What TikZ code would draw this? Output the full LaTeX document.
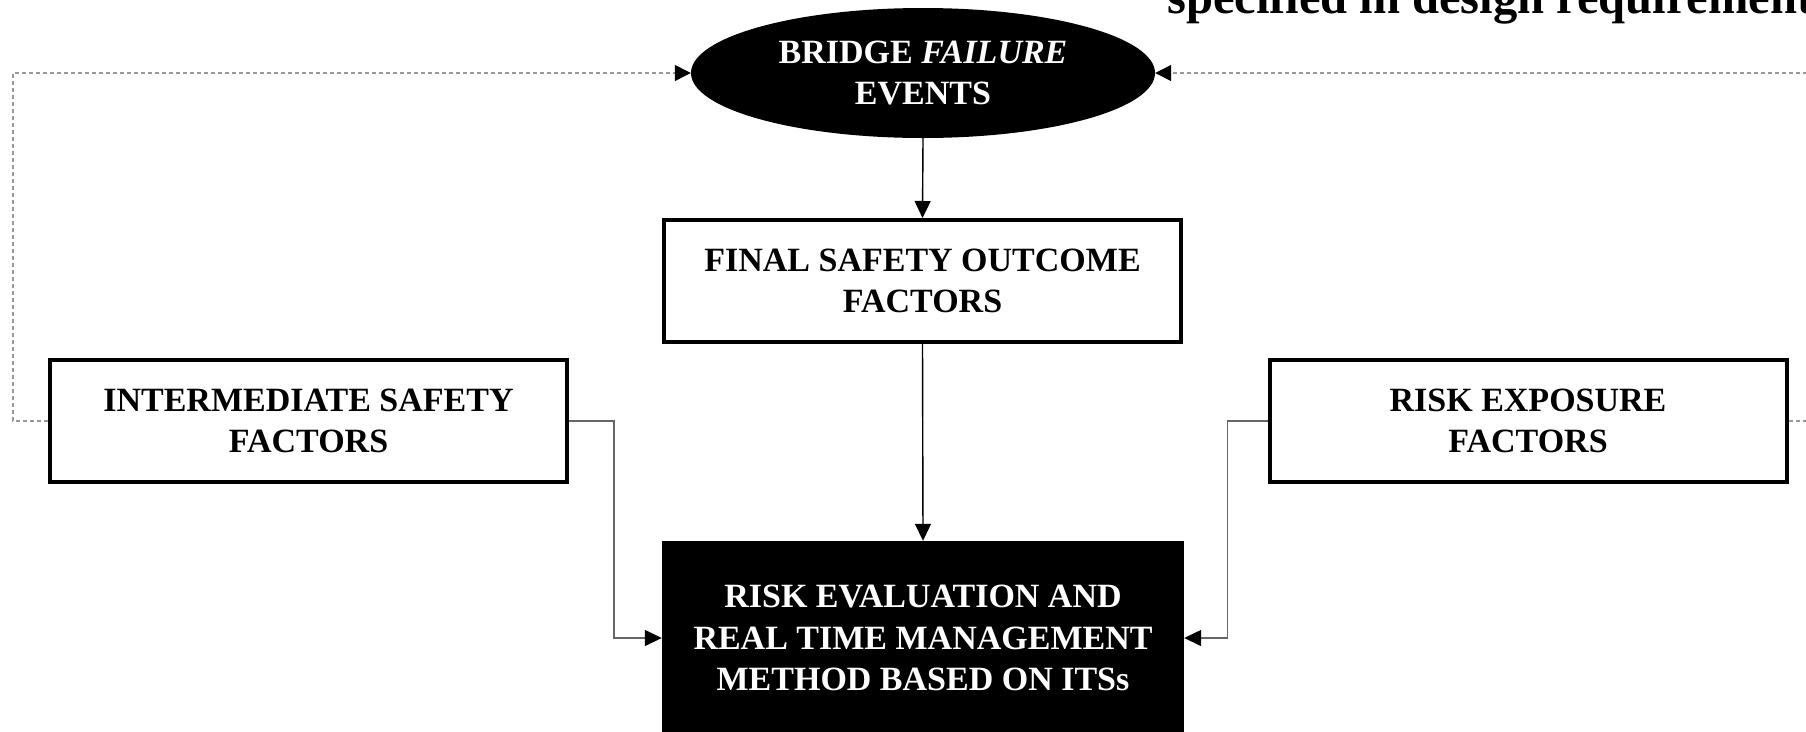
\documentclass[tikz,border=0pt]{standalone}
\usepackage{fontspec}
\setmainfont{Liberation Serif}
\usetikzlibrary{arrows.meta,shapes.geometric}
\begin{document}
\begin{tikzpicture}[x=1pt,y=-1pt,
  boxtext/.style={font=\fontsize{34}{41.5}\selectfont\bfseries, align=center},
  framebox/.style={boxtext, draw=black, line width=4pt, fill=white,
    minimum width=517pt, minimum height=122pt, inner sep=0pt},
  blackbox/.style={boxtext, fill=black, text=white,
    minimum width=522pt, minimum height=194pt, inner sep=0pt},
  conn/.style={line width=1.4pt, black, -{Triangle[length=17pt,width=16pt]}},
  elbow/.style={line width=1.4pt, black!60, -{Triangle[length=17pt,width=16pt,color=black]}},
  dashline/.style={line width=1.3pt, gray!80, dash pattern=on 4pt off 3pt,
    -{Triangle[length=16pt,width=16pt,color=black]}}
]
\useasboundingbox (0,0) rectangle (1806,731);

\node[boxtext, ellipse, fill=black, text=white, minimum width=464pt,
  minimum height=130pt, inner sep=0pt] (bfe) at (923,73)
  {BRIDGE \textit{FAILURE}\\EVENTS};

\node[framebox] (fso) at (922.5,281) {FINAL SAFETY OUTCOME\\FACTORS};
\node[framebox] (isf) at (308.5,421) {INTERMEDIATE SAFETY\\FACTORS};
\node[framebox] (rex) at (1528,421) {RISK EXPOSURE\\FACTORS};
\node[blackbox] (rem) at (923,638)
  {RISK EVALUATION AND\\REAL TIME MANAGEMENT\\METHOD BASED ON ITSs};

\node[anchor=base west, inner sep=0pt,
  font=\fontsize{48.5}{52}\selectfont\bfseries] (spec) at (1167,13)
  {specified in design requirements};

\draw[conn] (bfe.south) -- (fso.north);
\draw[conn] (fso.south) -- (rem.north);
\draw[elbow] (isf.east) -- ++(45,0) |- (rem.west);
\draw[elbow] (rex.west) -- ++(-40,0) |- (rem.east);
\draw[dashline] (isf.west) -- ++(-35,0) |- (bfe.west);
\draw[dashline] (rex.east) -- ++(45,0) |- (bfe.east);
\end{tikzpicture}
\end{document}
